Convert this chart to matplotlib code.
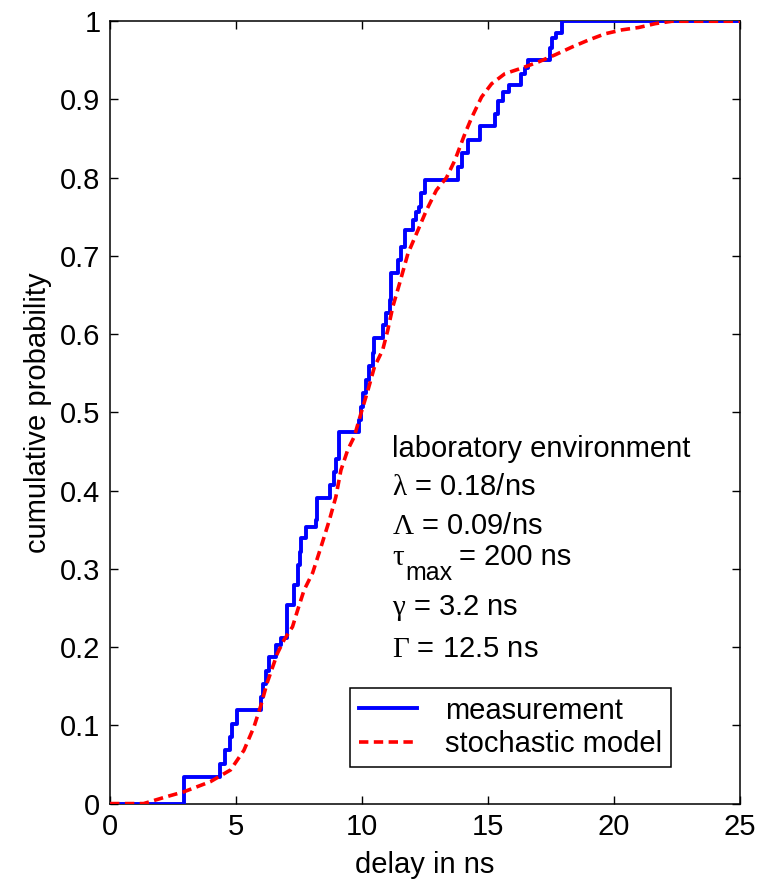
import matplotlib
matplotlib.use('Agg')
import matplotlib.pyplot as plt

plt.rcParams['font.family'] = ['Liberation Sans', 'DejaVu Sans']
plt.rcParams['mathtext.fontset'] = 'custom'
plt.rcParams['mathtext.rm'] = 'Liberation Serif'
plt.rcParams['mathtext.it'] = 'Liberation Serif'
plt.rcParams['mathtext.sf'] = 'Liberation Sans'

# measured delay CDF (step points: delay where the step occurs, level after it)
meas_delay = [0, 2.95, 4.38, 4.55, 4.74, 4.85, 5.02, 5.98, 6.05, 6.18,
              6.31, 6.57, 6.77, 7.01, 7.30, 7.44, 7.52, 7.57, 7.77, 8.17,
              8.23, 8.73, 8.90, 8.96, 9.10, 9.88, 9.96, 10.03, 10.16, 10.29,
              10.43, 10.49, 10.82, 10.95, 11.10, 11.15, 11.42, 11.55, 11.69, 12.02,
              12.15, 12.28, 12.35, 12.48, 13.81, 13.95, 14.20, 14.70, 15.27, 15.40,
              15.60, 15.85, 16.30, 16.45, 16.60, 17.46, 17.55, 17.70, 17.93, 25]
meas_cdf = [0, 0.034, 0.051, 0.068, 0.085, 0.102, 0.119, 0.136, 0.153, 0.170,
            0.187, 0.203, 0.212, 0.254, 0.280, 0.305, 0.322, 0.339, 0.354, 0.362,
            0.390, 0.407, 0.424, 0.441, 0.475, 0.490, 0.507, 0.525, 0.542, 0.559,
            0.576, 0.595, 0.612, 0.627, 0.644, 0.678, 0.695, 0.712, 0.733, 0.746,
            0.756, 0.763, 0.780, 0.797, 0.814, 0.831, 0.848, 0.866, 0.881, 0.898,
            0.910, 0.918, 0.932, 0.940, 0.951, 0.966, 0.978, 0.985, 1.0, 1.0]

# stochastic model CDF
model_delay = [0, 1.33, 2.26, 2.92, 3.98, 4.78, 5.31, 5.71, 5.98, 6.24,
               6.64, 6.90, 7.24, 7.44, 7.70, 8.04, 8.37, 8.70, 8.96, 9.16,
               9.43, 9.69, 9.96, 10.23, 10.49, 10.82, 11.02, 11.22, 11.49, 11.82,
               12.22, 12.55, 12.95, 13.35, 13.68, 14.08, 14.34, 14.74, 15.14, 15.67,
               16.33, 17.00, 17.66, 18.33, 18.99, 19.65, 20.32, 20.98, 21.65, 22.30, 25]
model_cdf = [0, 0.0, 0.009, 0.015, 0.028, 0.043, 0.068, 0.098, 0.125, 0.155,
             0.192, 0.209, 0.226, 0.247, 0.273, 0.295, 0.328, 0.362, 0.392, 0.426,
             0.452, 0.469, 0.499, 0.528, 0.558, 0.580, 0.605, 0.635, 0.665, 0.703,
             0.733, 0.758, 0.784, 0.800, 0.822, 0.856, 0.876, 0.903, 0.920, 0.933,
             0.940, 0.948, 0.957, 0.967, 0.976, 0.984, 0.989, 0.992, 0.997, 1.0, 1.0]

# channel parameters printed inside the axes
param_lines = ['laboratory environment',
               r'$\lambda$ = 0.18/ns',
               r'$\Lambda$ = 0.09/ns',
               None,
               r'$\gamma$ = 3.2 ns',
               r'$\Gamma$ = 12.5 ns']
param_y = [0.443, 0.394, 0.345, 0.305, 0.241, 0.187]
FS = 21

fig = plt.figure(figsize=(7.7, 8.85), dpi=100)
ax = fig.add_axes([0.143, 0.092, 0.818, 0.884])

ax.plot(meas_delay, meas_cdf, color='#0000ff', lw=2.8,
        drawstyle='steps-post', label='measurement', zorder=3)
ax.plot(model_delay, model_cdf, color='#ff0000', lw=2.6,
        linestyle=(0, (2.6, 1.5)), label='stochastic model', zorder=4)

for txt, yy in zip(param_lines, param_y):
    if txt is not None:
        ax.text(11.18, yy, txt, fontsize=FS, va='baseline', ha='left')

# tau_max line: larger, lower subscript than mathtext would give
ax.text(11.18, 0.305, r'$\tau$', fontsize=FS, va='baseline', ha='left')
ax.text(11.72, 0.286, 'max', fontsize=18, va='baseline', ha='left')
ax.text(13.85, 0.305, '= 200 ns', fontsize=FS, va='baseline', ha='left')

ax.set_xlim(0, 25)
ax.set_ylim(0, 1)
ax.set_xticks([0, 5, 10, 15, 20, 25])
ax.set_yticks([0, 0.1, 0.2, 0.3, 0.4, 0.5, 0.6, 0.7, 0.8, 0.9, 1])
ax.set_yticklabels(['0', '0.1', '0.2', '0.3', '0.4', '0.5', '0.6',
                    '0.7', '0.8', '0.9', '1'])
ax.tick_params(direction='in', length=6, width=1.0, labelsize=FS,
               top=True, right=True, pad=7)
for sp in ax.spines.values():
    sp.set_linewidth(1.1)

ax.set_xlabel('delay in ns', fontsize=FS, labelpad=7)
ax.set_ylabel('cumulative probability', fontsize=FS, labelpad=6)

leg = ax.legend(loc='lower left', bbox_to_anchor=(0.381, 0.0466),
                borderaxespad=0, fontsize=FS, frameon=True, fancybox=False,
                edgecolor='black', framealpha=1, handlelength=2.0,
                handletextpad=0.95, labelspacing=0.2, borderpad=0.3)
leg.get_frame().set_linewidth(1.1)

fig.savefig('out.png', dpi=100)
